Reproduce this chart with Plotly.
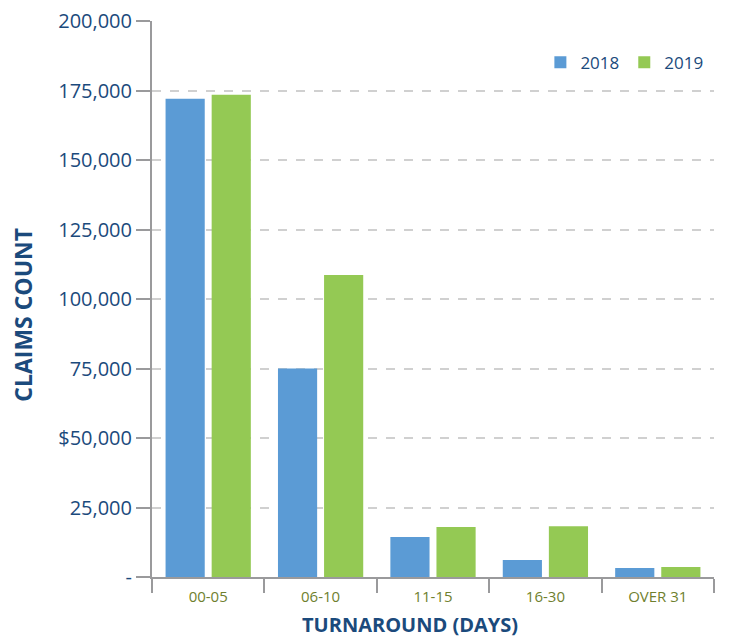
import plotly.graph_objects as go

categories = ["00-05", "06-10", "11-15", "16-30", "OVER 31"]
claims_2018 = [172000, 75000, 14400, 6100, 3200]
claims_2019 = [173500, 108600, 18000, 18300, 3600]
y_tickvals = [0, 25000, 50000, 75000, 100000, 125000, 150000, 175000, 200000]
y_ticktext = ["-", "25,000", "$50,000", "75,000", "100,000", "125,000", "150,000", "175,000", "200,000"]

BLUE_TXT = "#1b4a7c"
OLIVE = "#6f7f2e"
AXIS = "#9a9a9c"
FONT = "Open Sans"

fig = go.Figure()
fig.add_trace(go.Bar(name="2018", x=categories, y=claims_2018, marker=dict(color="#5b9bd5", line=dict(width=0))))
fig.add_trace(go.Bar(name="2019", x=categories, y=claims_2019, marker=dict(color="#94c954", line=dict(width=0))))

fig.update_layout(
    width=734, height=639,
    margin=dict(l=152, r=20, t=21, b=62),
    plot_bgcolor="white", paper_bgcolor="white",
    barmode="group", bargap=0.18, bargroupgap=0.15,
    font=dict(family=FONT, color=BLUE_TXT),
    legend=dict(orientation="h", x=0.99, xanchor="right", y=0.925, yanchor="middle",
                font=dict(size=17, color=BLUE_TXT), traceorder="normal",
                itemwidth=30, bgcolor="rgba(0,0,0,0)"),
    xaxis=dict(
        type="category", automargin=False,
        showline=True, linecolor=AXIS, linewidth=2,
        ticks="outside", tickson="boundaries", ticklen=14, tickcolor=AXIS, tickwidth=2,
        tickfont=dict(size=15, color=OLIVE, family=FONT),
        ticklabelstandoff=5,
    ),
    yaxis=dict(
        range=[0, 200000], automargin=False,
        tickvals=y_tickvals, ticktext=y_ticktext,
        showline=True, linecolor=AXIS, linewidth=2,
        ticks="outside", ticklen=14, tickcolor=AXIS, tickwidth=2,
        tickfont=dict(size=20, color=BLUE_TXT, family=FONT),
        showgrid=True, gridcolor="#d0d0d0", griddash="dash", gridwidth=1.5,
        zeroline=False,
    ),
    annotations=[
        dict(text="<b>TURNAROUND (DAYS)</b>", xref="paper", yref="paper", x=0.459, y=-0.086,
             xanchor="center", yanchor="middle", showarrow=False,
             font=dict(size=20, color=BLUE_TXT, family=FONT)),
        dict(text="<b>CLAIMS COUNT</b>", xref="paper", yref="paper", x=-0.231, y=0.472,
             xanchor="center", yanchor="middle", showarrow=False, textangle=-90,
             font=dict(size=23, color=BLUE_TXT, family=FONT)),
    ],
)

fig.write_html("out.html")
